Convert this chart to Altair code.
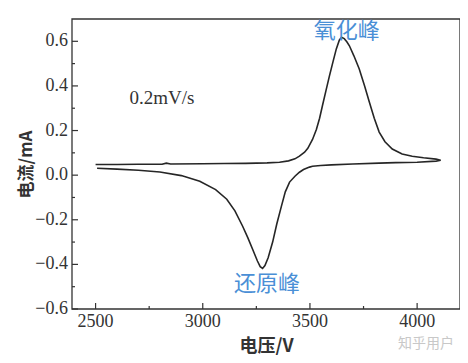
import altair as alt
import pandas as pd

# Anodic (forward) sweep: voltage (V) and current (mA)
fwd_v = [2500, 2600, 2700, 2810, 2830, 2850, 3000, 3100, 3200, 3300, 3358, 3400, 3430, 3451, 3475,
         3490, 3512, 3530, 3545, 3558, 3575, 3591, 3608, 3623, 3637, 3647, 3660, 3672, 3684, 3705,
         3730, 3755, 3777, 3800, 3823, 3850, 3884, 3930, 3977, 4030, 4088, 4110]
fwd_i = [0.048, 0.048, 0.049, 0.049, 0.054, 0.050, 0.051, 0.052, 0.053, 0.055, 0.058, 0.064, 0.073, 0.085, 0.103,
         0.120, 0.160, 0.205, 0.255, 0.310, 0.380, 0.445, 0.510, 0.566, 0.605, 0.618, 0.612, 0.598, 0.580, 0.535,
         0.476, 0.400, 0.328, 0.255, 0.193, 0.150, 0.117, 0.095, 0.085, 0.078, 0.072, 0.067]

# Cathodic (reverse) sweep
rev_v = [4110, 4088, 4000, 3900, 3823, 3700, 3600, 3550, 3512, 3498, 3470, 3451, 3430, 3405, 3385,
         3367, 3345, 3326, 3305, 3290, 3279, 3268, 3255, 3233, 3210, 3186, 3150, 3112, 3060, 2986,
         2900, 2800, 2700, 2600, 2507]
rev_i = [0.067, 0.063, 0.058, 0.056, 0.054, 0.050, 0.046, 0.043, 0.040, 0.036, 0.025, 0.013, -0.005, -0.031, -0.075,
         -0.139, -0.220, -0.300, -0.370, -0.405, -0.418, -0.410, -0.385, -0.333, -0.280, -0.229, -0.160, -0.108, -0.065, -0.027,
         -0.002, 0.014, 0.022, 0.027, 0.031]

x_major = [2500, 3000, 3500, 4000]
x_minor = [2750, 3250, 3750]
y_major = [-0.6, -0.4, -0.2, 0.0, 0.2, 0.4, 0.6]
y_minor = [-0.5, -0.3, -0.1, 0.1, 0.3, 0.5]

ann_text = ["氧化峰", "还原峰"]
ann_v = [3672, 3300]
ann_i = [0.648, -0.486]

rate_text = ["0.2mV/s"]
rate_v = [2810]
rate_i = [0.345]

x_title = "电压/V"
y_title = "电流/mA"
watermark = ["知乎用户"]

v_all = fwd_v + rev_v
i_all = fwd_i + rev_i
curve = pd.DataFrame({"v": v_all, "i": i_all, "k": list(range(len(v_all)))})

x_lab = pd.DataFrame({"v": x_major, "t": [str(v) for v in x_major]})
y_lab = pd.DataFrame({"i": y_major, "t": [f"{v:.1f}".replace("-", "\u2212") for v in y_major]})

xs = alt.Scale(domain=[2390, 4200], nice=False, zero=False)
ys = alt.Scale(domain=[-0.6, 0.7], nice=False, zero=False)

W, H = 388, 290
serif = "Liberation Serif"
cjk = "Noto Sans CJK SC"

line = alt.Chart(curve).mark_line(color="#262626", strokeWidth=1.6).encode(
    x=alt.X("v:Q", scale=xs, axis=alt.Axis(values=x_major, title=x_title, labels=False,
                                           titleFontSize=18, titlePadding=28)),
    y=alt.Y("i:Q", scale=ys, axis=alt.Axis(values=y_major, title=y_title, labels=False,
                                           titleFontSize=17, titlePadding=37)),
    order="k:Q",
)

frame = alt.Chart(pd.DataFrame({"f": [0]})).mark_rect(fill=None, stroke="#333333", strokeWidth=1.3).encode(
    x=alt.value(0), x2=alt.value(W), y=alt.value(0), y2=alt.value(H))

xmaj = alt.Chart(pd.DataFrame({"v": x_major})).mark_rule(color="#333333", strokeWidth=1.2).encode(
    x=alt.X("v:Q", scale=xs), y=alt.value(H), y2=alt.value(H - 6))
xmin = alt.Chart(pd.DataFrame({"v": x_minor})).mark_rule(color="#333333", strokeWidth=1.2).encode(
    x=alt.X("v:Q", scale=xs), y=alt.value(H), y2=alt.value(H - 3))
ymaj = alt.Chart(pd.DataFrame({"i": y_major})).mark_rule(color="#333333", strokeWidth=1.2).encode(
    y=alt.Y("i:Q", scale=ys), x=alt.value(0), x2=alt.value(6))
ymin = alt.Chart(pd.DataFrame({"i": y_minor})).mark_rule(color="#333333", strokeWidth=1.2).encode(
    y=alt.Y("i:Q", scale=ys), x=alt.value(0), x2=alt.value(3))

xlabels = alt.Chart(x_lab).mark_text(font=serif, fontSize=18, color="#333333",
                                     align="center", baseline="middle").encode(
    x=alt.X("v:Q", scale=xs), y=alt.value(H + 13), text="t:N")
ylabels = alt.Chart(y_lab).mark_text(font=serif, fontSize=18, color="#333333",
                                     align="right", baseline="middle").encode(
    y=alt.Y("i:Q", scale=ys), x=alt.value(-4), text="t:N")

ann = alt.Chart(pd.DataFrame({"t": ann_text, "v": ann_v, "i": ann_i})).mark_text(
    font=cjk, fontSize=22, color="#4a8fd6", align="center", baseline="middle").encode(
    x=alt.X("v:Q", scale=xs), y=alt.Y("i:Q", scale=ys), text="t:N")

rate = alt.Chart(pd.DataFrame({"t": rate_text, "v": rate_v, "i": rate_i})).mark_text(
    font=serif, fontSize=19, color="#333333", align="center", baseline="middle").encode(
    x=alt.X("v:Q", scale=xs), y=alt.Y("i:Q", scale=ys), text="t:N")

wm = alt.Chart(pd.DataFrame({"t": watermark})).mark_text(
    font=cjk, fontSize=14, color="#c8c8c8", align="center", baseline="middle").encode(
    x=alt.value(354), y=alt.value(325), text="t:N")

chart = alt.layer(line, frame, xmaj, xmin, ymaj, ymin, xlabels, ylabels, ann, rate, wm).properties(
    width=W, height=H,
    autosize=alt.AutoSizeParams(type="none"),
    padding={"left": 64, "top": 11, "right": 0, "bottom": 46},
    background="white",
).configure_view(stroke=None).configure_axis(
    ticks=False, domain=False, grid=False,
    titleFont=cjk, titleFontWeight="bold", titleColor="#333333",
)

chart.save("out.html", embed_options={"renderer": "svg", "actions": False})
